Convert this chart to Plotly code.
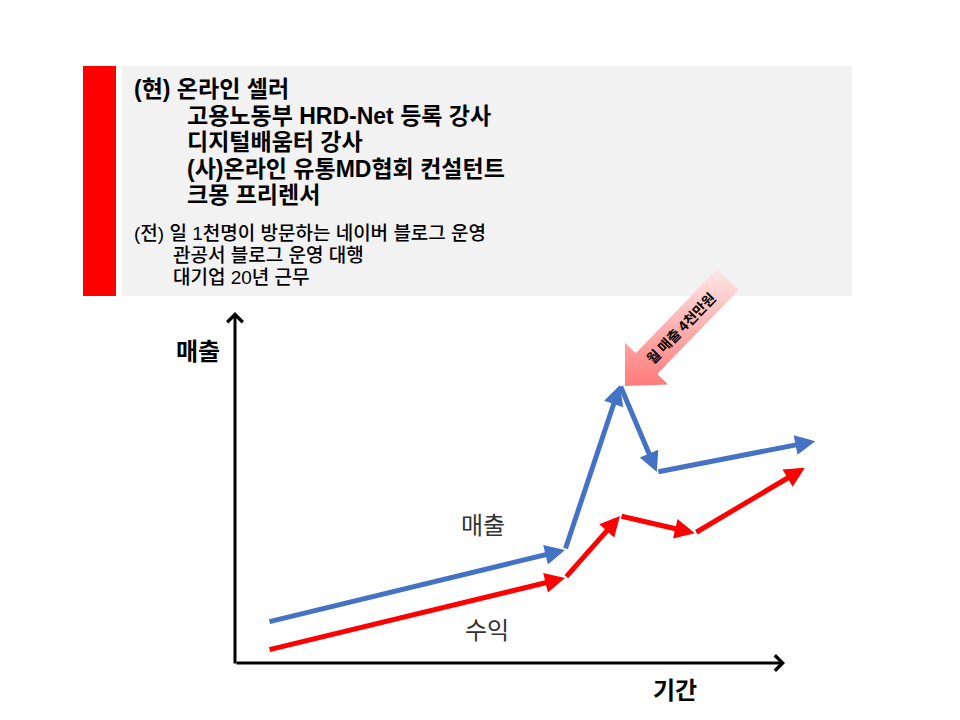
import numpy as np
import plotly.graph_objects as go

# ---------------- data ----------------
period_sales = [0.6, 6.0, 7.0, 7.67, 10.55]
sales = [11.7, 32.2, 79.2, 54.4, 63.2]
period_profit = [0.6, 6.0, 7.0, 8.36, 10.36]
profit = [3.7, 24.2, 41.9, 37.0, 55.6]

axis_x_end = 10
axis_y_end = 100

career_now_head = "(현) 온라인 셀러"
career_now = ["고용노동부 HRD-Net 등록 강사", "디지털배움터 강사",
              "(사)온라인 유통MD협회 컨설턴트", "크몽 프리렌서"]
career_past_head = "(전) 일 1천명이 방문하는 네이버 블로그 운영"
career_past = ["관공서 블로그 운영 대행", "대기업 20년 근무"]
callout_text = "월 매출 4천만원"

FONT = "Noto Sans CJK KR"
TFONT = "Liberation Sans, Noto Sans CJK KR"
BLUE = "#4472c4"
RED = "#ff0000"

W, H = 960, 720
# chart calibration (pixels)
ox, oy = 235, 663
px_per_x = 55.0
px_per_y = 3.51

fig = go.Figure()

# invisible anchor trace so the data axes exist
fig.add_trace(go.Scatter(x=period_sales, y=sales, mode="lines",
                         line=dict(color=BLUE, width=0), hoverinfo="skip",
                         showlegend=False, xaxis="x", yaxis="y"))

annotations = []

def seg_arrows(xs, ys, color):
    for i in range(len(xs) - 1):
        annotations.append(dict(
            x=xs[i + 1], y=ys[i + 1], ax=xs[i], ay=ys[i],
            xref="x", yref="y", axref="x", ayref="y",
            text="", showarrow=True, arrowhead=2, arrowsize=0.8,
            arrowwidth=5, arrowcolor=color, standoff=0, startstandoff=0))

seg_arrows(period_sales, sales, BLUE)
seg_arrows(period_profit, profit, RED)

# axes as arrows
annotations.append(dict(x=0, y=axis_y_end, ax=0, ay=-0.6, xref="x", yref="y",
                        axref="x", ayref="y", text="", showarrow=True,
                        arrowhead=4, arrowsize=1, arrowwidth=3,
                        arrowcolor="black", standoff=0))
annotations.append(dict(x=axis_x_end, y=0, ax=0, ay=0, xref="x", yref="y",
                        axref="x", ayref="y", text="", showarrow=True,
                        arrowhead=4, arrowsize=1, arrowwidth=3,
                        arrowcolor="black", standoff=0))

# big pink callout arrow (pixel axes)
tip = np.array([625.0, 386.0])
th = np.deg2rad(46)
u = np.array([np.cos(th), -np.sin(th)])
n = np.array([np.sin(th), np.cos(th)])
outline = [(0, 0), (31, -30), (31, -15), (148, -15), (148, 15), (31, 15), (31, 30), (0, 0)]
pts = np.array([tip + s * u + w * n for s, w in outline])
fig.add_trace(go.Scatter(
    x=pts[:, 0], y=pts[:, 1], mode="lines", fill="toself",
    line=dict(width=0, color="rgba(0,0,0,0)"),
    fillgradient=dict(type="vertical",
                      colorscale=[[0, "#fde8e8"], [0.5, "#fdb0b0"], [1, "#ff7a7a"]],
                      start=pts[:, 1].min(), stop=pts[:, 1].max()),
    hoverinfo="skip", showlegend=False, xaxis="x2", yaxis="y2"))
tc = tip + 80 * u
annotations.append(dict(x=tc[0], y=tc[1], xref="x2", yref="y2", text=f"<b>{callout_text}</b>",
                        showarrow=False, textangle=-46,
                        font=dict(family=FONT, size=14, color="black")))

# text block
top_y = [89, 115.5, 142, 168.5, 195]
top_x = [133, 186, 186, 186, 186]
for x, y, t in zip(top_x, top_y, [career_now_head] + career_now):
    annotations.append(dict(x=x, y=y, xref="x2", yref="y2", text=f"<b>{t}</b>",
                            showarrow=False, xanchor="left", yanchor="middle",
                            borderpad=0, font=dict(family=TFONT, size=23, color="black")))
bot_y = [233, 255, 277]
bot_x = [133, 172, 172]
for x, y, t in zip(bot_x, bot_y, [career_past_head] + career_past):
    annotations.append(dict(x=x, y=y, xref="x2", yref="y2", text=t,
                            showarrow=False, xanchor="left", yanchor="middle",
                            borderpad=0, font=dict(family=TFONT, size=19, color="black", weight=500)))

# chart labels
annotations.append(dict(x=198, y=349, xref="x2", yref="y2", text="<b>매출</b>",
                        showarrow=False, font=dict(family=FONT, size=24, color="black")))
annotations.append(dict(x=675, y=688, xref="x2", yref="y2", text="<b>기간</b>",
                        showarrow=False, font=dict(family=FONT, size=24, color="black")))
annotations.append(dict(x=483, y=523, xref="x2", yref="y2", text="매출",
                        showarrow=False, font=dict(family=FONT, size=24, color="#333333")))
annotations.append(dict(x=487, y=628, xref="x2", yref="y2", text="수익",
                        showarrow=False, font=dict(family=FONT, size=24, color="#333333")))

shapes = [
    dict(type="rect", xref="x2", yref="y2", x0=122, x1=852, y0=66, y1=296,
         fillcolor="#f2f2f2", line=dict(width=0), layer="below"),
    dict(type="rect", xref="x2", yref="y2", x0=83, x1=116, y0=66, y1=296,
         fillcolor="#ff0000", line=dict(width=0), layer="below"),
]

fig.update_layout(
    width=W, height=H, margin=dict(l=0, r=0, t=0, b=0),
    paper_bgcolor="white", plot_bgcolor="white",
    xaxis=dict(domain=[0, 1], range=[-ox / px_per_x, (W - ox) / px_per_x], visible=False, fixedrange=True),
    yaxis=dict(domain=[0, 1], range=[(oy - H) / px_per_y, oy / px_per_y], visible=False, fixedrange=True),
    xaxis2=dict(overlaying="x", range=[0, W], visible=False, fixedrange=True),
    yaxis2=dict(overlaying="y", range=[H, 0], visible=False, fixedrange=True),
    annotations=annotations, shapes=shapes, showlegend=False,
)

fig.write_html("out.html")
